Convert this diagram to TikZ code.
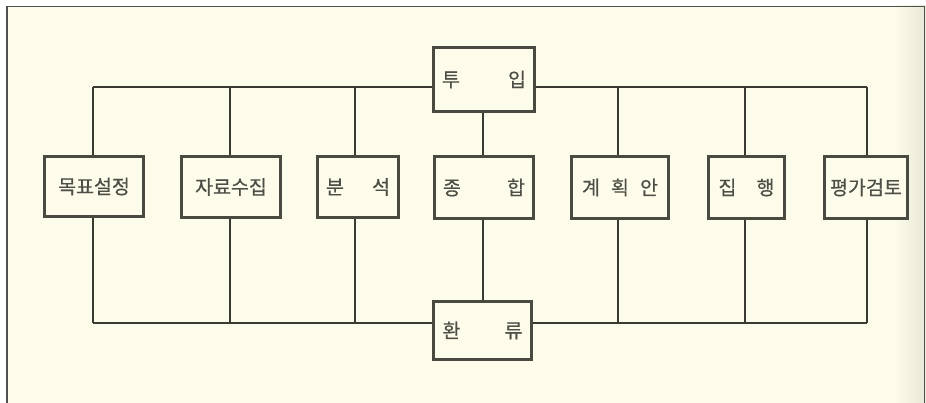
\documentclass[tikz,border=0pt]{standalone}
\usepackage{fontspec}
\newfontfamily\kr[FakeBold=0.6]{Noto Sans CJK KR}
\definecolor{paper}{HTML}{FDFBE9}
\definecolor{paperdark}{HTML}{E9E7D6}
\definecolor{ink}{HTML}{3A3A32}
\definecolor{boxink}{HTML}{4A4A40}
\definecolor{textink}{HTML}{4E4E46}
\definecolor{frame}{HTML}{505050}
\tikzset{
  wire/.style={draw=ink, line width=1.4pt},
  stage/.style={draw=boxink, line width=3pt, fill=paper, inner sep=0pt, anchor=north west,
    font=\kr\fontsize{19.5}{20}\selectfont, text=textink},
}
\newcommand{\spread}[2]{\makebox[#1]{#2}}
\begin{document}
\begin{tikzpicture}[x=1pt,y=-1pt]
\useasboundingbox (0,0) rectangle (926,403);
\fill[white] (0,0) rectangle (926,403);
\fill[paper] (7,6) rectangle (926,403);
\shade[left color=paper, right color=paperdark] (895,6) rectangle (926,403);
\draw[frame, line width=1.6pt] (7,403) -- (7,6.5) -- (924.5,6.5) -- (924.5,403);

% top and bottom rails
\coordinate (tl) at (93,87);
\coordinate (tr) at (867,87);
\coordinate (bl) at (93,323);
\coordinate (br) at (867,323);

\node[stage, minimum width=101pt, minimum height=64pt] (in) at (432,46) {\spread{84pt}{투\hfill 입}};
\node[stage, minimum width=98pt, minimum height=58pt] (fb) at (432,300) {\spread{80pt}{환\hfill 류}};

\node[stage, minimum width=99pt, minimum height=60pt] (s1) at (43,155) {목표설정};
\node[stage, minimum width=99pt, minimum height=61pt] (s2) at (180,155) {자료수집};
\node[stage, minimum width=81pt, minimum height=61pt] (s3) at (316,155) {\spread{64pt}{분\hfill 석}};
\node[stage, minimum width=99pt, minimum height=62pt] (s4) at (433,155) {\spread{82pt}{종\hfill 합}};
\node[stage, minimum width=97pt, minimum height=62pt] (s5) at (570,155) {\spread{76pt}{계\hfill 획\hfill 안}};
\node[stage, minimum width=76pt, minimum height=62pt] (s6) at (707,155) {\spread{56pt}{집\hfill 행}};
\node[stage, minimum width=83pt, minimum height=62pt] (s7) at (823,155) {평가검토};

% rails
\draw[wire] (tl) -- (in.west |- tl);
\draw[wire] (in.east |- tr) -- (tr);
\draw[wire] (bl) -- (fb.west |- bl);
\draw[wire] (fb.east |- br) -- (br);

% verticals
\draw[wire] (tl) -- (s1.north -| tl);
\draw[wire] (s1.south -| bl) -- (bl);
\coordinate (x2) at (230,87);
\coordinate (y2) at (230,323);
\draw[wire] (x2) -- (s2.north -| x2);
\draw[wire] (s2.south -| y2) -- (y2);
\coordinate (x3) at (355,87);
\coordinate (y3) at (355,323);
\draw[wire] (x3) -- (s3.north -| x3);
\draw[wire] (s3.south -| y3) -- (y3);
\coordinate (x4) at (483,110);
\draw[wire] (in.south -| x4) -- (s4.north -| x4);
\draw[wire] (s4.south -| x4) -- (fb.north -| x4);
\coordinate (x5) at (618,87);
\coordinate (y5) at (618,323);
\draw[wire] (x5) -- (s5.north -| x5);
\draw[wire] (s5.south -| y5) -- (y5);
\coordinate (x6) at (745,87);
\coordinate (y6) at (745,323);
\draw[wire] (x6) -- (s6.north -| x6);
\draw[wire] (s6.south -| y6) -- (y6);
\draw[wire] (tr) -- (s7.north -| tr);
\draw[wire] (s7.south -| br) -- (br);
\end{tikzpicture}
\end{document}
